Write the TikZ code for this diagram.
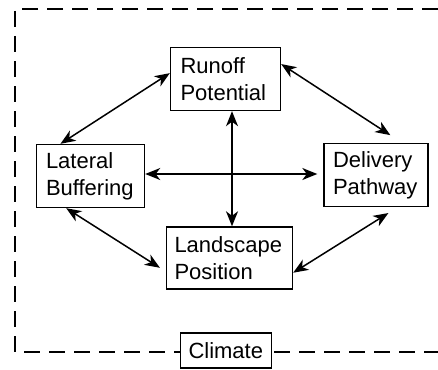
\documentclass[tikz,border=0pt]{standalone}
\usepackage{fontspec}
\setmainfont{Liberation Sans}
\usetikzlibrary{arrows.meta,calc}

\begin{document}
\begin{tikzpicture}[x=1pt,y=-1pt,font=\fontsize{22}{27}\selectfont,
  factor/.style={draw,line width=1.4pt,fill=white,align=left,inner ysep=4pt,minimum height=63pt},
  link/.style={{Stealth[length=15pt,width=12pt,inset=4.5pt]}-{Stealth[length=15pt,width=12pt,inset=4.5pt]},line width=1.5pt},
  frame/.style={line width=1.3pt,dash pattern=on 16pt off 9pt}]
\useasboundingbox (0,0) rectangle (438,369);
\draw[frame] (438,9) -- (15,9) -- (15,352) -- (438,352);
\node[factor,text width=90pt,inner xsep=10pt] (run) at (225.5,79) {Runoff\\Potential};
\node[factor,text width=89pt,inner xsep=9.5pt] (lat) at (90.5,176) {Lateral\\Buffering};
\node[factor,text width=86pt,inner xsep=9pt] (del) at (376,175) {Delivery\\Pathway};
\node[factor,text width=110pt,inner xsep=8pt,minimum height=62pt] (land) at (229.5,258) {Landscape\\Position};
\node[factor,text width=75pt,inner xsep=8pt,minimum height=35pt,inner ysep=2pt] (clim) at (226,350.5) {Climate};
\draw[link] (lat.133) -- (run.174);
\draw[link,shorten >=14pt] (run.15.5) -- (del.51);
\draw[link,shorten >=7pt] (lat.-127) -- (land.192);
\draw[link,shorten <=11pt] (del.-56) -- (land.-13.3);
\draw[link,shorten >=6pt] ([yshift=2pt]lat.east) -- ([yshift=2pt]lat.east -| del.west);
\draw[link] ([xshift=6.5pt]run.south) -- ([xshift=6.5pt]run.south |- land.north);
\end{tikzpicture}
\end{document}
